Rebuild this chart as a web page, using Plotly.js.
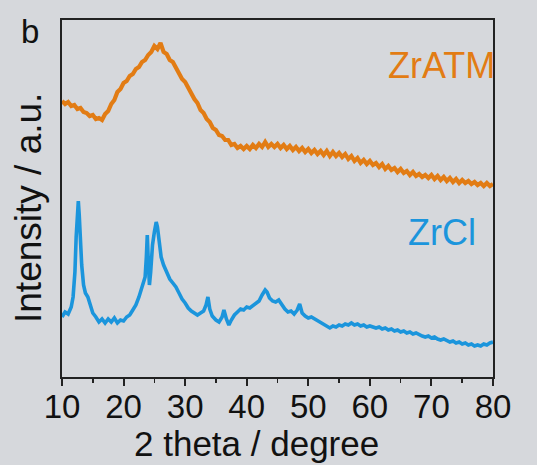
<!DOCTYPE html>
<html>
<head>
<meta charset="utf-8">
<script src="https://cdn.plot.ly/plotly-3.0.1.min.js"></script>
<style>
html,body{margin:0;padding:0;background:#d6d8dc;}
#chart{width:537px;height:465px;}
</style>
</head>
<body>
<div id="chart"></div>
<script>
// ZrATM (orange) pattern: 2 theta (degree) and intensity (a.u., offset for stacking)
var zratmTheta = [10,10.5,11,11.5,12,12.5,13,13.5,14,14.5,15,15.5,16,16.5,17,17.5,18,18.5,19,19.5,20,20.5,21,21.5,22,22.5,23,23.5,24,24.5,25,25.5,26,26.5,27,27.5,28,28.5,29,29.5,30,30.5,31,31.5,32,32.5,33,33.5,34,34.5,35,35.5,36,36.5,37,37.5,38,38.5,39,39.5,40,40.5,41,41.5,42,42.5,43,43.5,44,44.5,45,45.5,46,46.5,47,47.5,48,48.5,49,49.5,50,50.5,51,51.5,52,52.5,53,53.5,54,54.5,55,55.5,56,56.5,57,57.5,58,58.5,59,59.5,60,60.5,61,61.5,62,62.5,63,63.5,64,64.5,65,65.5,66,66.5,67,67.5,68,68.5,69,69.5,70,70.5,71,71.5,72,72.5,73,73.5,74,74.5,75,75.5,76,76.5,77,77.5,78,78.5,79,79.5,80];
var zratmIntensity = [276,273,275,271,272,268,269,265,264,261,262,258,259,257,263,266,273,277,285,288,294,296,301,303,308,310,315,317,322,325,331,328,334,325,323,317,315,309,305,298,295,289,285,278,274,267,264,258,255,249,247,242,241,237,237,232,233,229,231,228,231,228,232,229,233,230,235,230,233,230,233,229,232,228,231,227,230,226,229,225,228,224,227,223,226,222,226,221,225,221,224,220,223,218,221,216,219,214,217,213,216,212,214,210,213,208,211,207,209,205,208,204,206,202,205,201,203,200,202,199,202,198,201,197,200,196,199,195,198,194,197,194,196,193,195,192,194,191,194,191,193];

// ZrCl (blue) pattern
var zrclTheta = [10,10.5,11,11.5,11.8,12.1,12.3,12.5,12.65,12.8,13.0,13.2,13.5,13.8,14.2,14.6,15,15.5,16,16.5,17,17.5,18,18.5,19,19.5,20,20.5,21,21.5,22,22.5,22.9,23.2,23.5,23.7,23.85,24.0,24.2,24.4,24.7,25.0,25.3,25.5,25.8,26.1,26.5,27,27.5,28,28.5,29,29.5,30,30.5,31,31.5,32,32.5,33.0,33.4,33.7,34.0,34.4,35,35.5,36.0,36.3,36.7,37.1,37.5,38,38.5,39,39.5,40,40.5,41,41.5,42,42.5,43,43.3,43.7,44.2,44.7,45.2,45.7,46.2,46.7,47.2,47.7,48.2,48.6,49.0,49.5,50,50.5,51,51.5,52,52.5,53,53.5,54,54.5,55,55.5,56,56.5,57,57.5,58,58.5,59,59.5,60,60.5,61,61.5,62,62.5,63,63.5,64,64.5,65,65.5,66,66.5,67,67.5,68,68.5,69,69.5,70,70.5,71,71.5,72,72.5,73,73.5,74,74.5,75,75.5,76,76.5,77,77.5,78,78.5,79,79.5,80];
var zrclIntensity = [60,65,63,70,80,105,140,170,176,162,135,112,92,84,80,72,64,60,55,58,54,58,55,59,54,57,56,60,62,67,72,80,88,95,100,120,142,118,92,105,132,145,155,150,132,120,112,104,98,94,90,84,78,74,69,66,64,62,64,66,72,80,68,61,57,55,60,67,58,52,57,62,65,68,67,70,69,71,73,76,82,87,85,79,76,75,77,72,68,65,66,63,67,73,64,61,59,60,58,57,55,53,50,49,51,50,52,51,53,52,54,52,53,51,52,50,51,50,49,50,48,49,47,48,46,47,45,46,44,45,43,44,42,41,40,41,39,40,38,37,38,36,35,36,34,35,33,34,32,33,31,32,31,33,32,34,35];

var xTickVals = [10,20,30,40,50,60,70,80];
var xTickText = ['10','20','30','40','50','60','70','80'];

var orange = '#e27c14';
var blue = '#1b95dc';
var font = 'Liberation Sans, Arial, sans-serif';

var traces = [
  {x: zratmTheta, y: zratmIntensity, type: 'scatter', mode: 'lines', name: 'ZrATM',
   line: {color: orange, width: 4.2}},
  {x: zrclTheta, y: zrclIntensity, type: 'scatter', mode: 'lines', name: 'ZrCl',
   line: {color: blue, width: 3.6}}
];

// plot area: x 62..493, y 20..377 (pixels)
function px(x){ return (x - 62) / 431; }
function py(y){ return (377 - y) / 357; }

var layout = {
  width: 537, height: 465,
  margin: {l: 62, r: 44, t: 20, b: 88, pad: 0},
  paper_bgcolor: '#d6d8dc',
  plot_bgcolor: '#d6d8dc',
  showlegend: false,
  font: {family: font, color: '#111'},
  xaxis: {
    range: [10, 80], tickvals: xTickVals, ticktext: xTickText,
    ticks: 'outside', ticklen: 7, tickwidth: 2, tickcolor: '#222',
    ticklabelstandoff: -8,
    minor: {dtick: 5, tick0: 10, ticks: 'outside', ticklen: 4, tickwidth: 1.5, tickcolor: '#222', showgrid: false},
    showline: true, mirror: true, linecolor: '#222', linewidth: 2,
    showgrid: false, zeroline: false,
    tickfont: {size: 33, family: font, color: '#111'}
  },
  yaxis: {
    range: [0, 357], showticklabels: false, ticks: '',
    showline: true, mirror: true, linecolor: '#222', linewidth: 2,
    showgrid: false, zeroline: false
  },
  annotations: [
    {text: 'b', xref: 'paper', yref: 'paper', x: px(30), y: py(32), xanchor: 'center', yanchor: 'middle',
     showarrow: false, font: {size: 33, family: font, color: '#111'}},
    {text: 'Intensity / a.u.', xref: 'paper', yref: 'paper', x: px(28), y: py(208), xanchor: 'center', yanchor: 'middle',
     textangle: -90, showarrow: false, font: {size: 37, family: font, color: '#111'}},
    {text: '2 theta / degree', xref: 'paper', yref: 'paper', x: px(256), y: py(443), xanchor: 'center', yanchor: 'middle',
     showarrow: false, font: {size: 35, family: font, color: '#111'}},
    {text: 'ZrATM', xref: 'paper', yref: 'paper', x: px(441), y: py(65), xanchor: 'center', yanchor: 'middle',
     showarrow: false, font: {size: 36, family: font, color: orange}},
    {text: 'ZrCl', xref: 'paper', yref: 'paper', x: px(442), y: py(232), xanchor: 'center', yanchor: 'middle',
     showarrow: false, font: {size: 36, family: font, color: blue}}
  ]
};

Plotly.newPlot('chart', traces, layout, {displayModeBar: false, staticPlot: true});
</script>
</body>
</html>
